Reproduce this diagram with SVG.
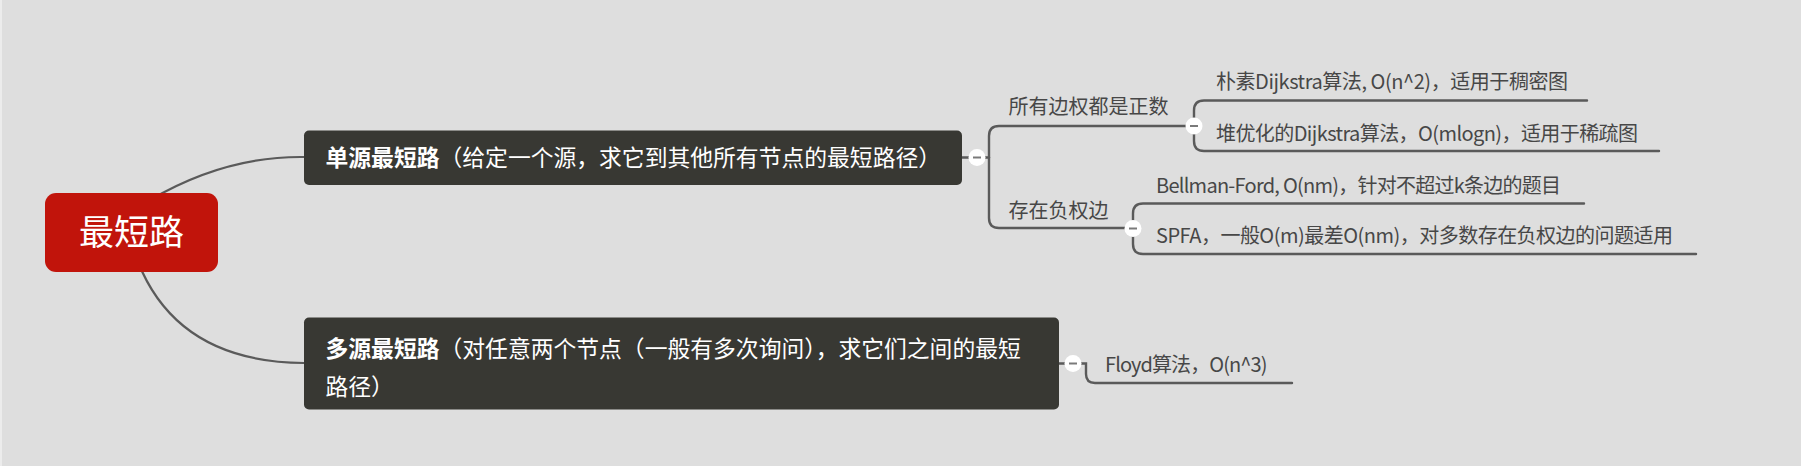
<svg xmlns="http://www.w3.org/2000/svg" width="1801" height="466" viewBox="0 0 1801 466">
<style>
.bg{fill:#dedede}
.conn{fill:none;stroke:#5a5a5a;stroke-width:2.4;stroke-linecap:round}
.root-conn{fill:none;stroke:#5a5a5a;stroke-width:2.2}
.topic{fill:#383833}
.ttext{font-family:"Noto Sans CJK SC","Noto Sans",sans-serif;font-size:22.8px;fill:#ffffff}
.ttext .b{font-weight:bold}
.label{font-family:"Noto Sans CJK SC","Noto Sans",sans-serif;font-size:20px;fill:#474747}
.btn circle{fill:#ffffff}
.btn line{stroke:#7a7a7a;stroke-width:2}
</style>
<defs>
<pattern id="stripes" width="8" height="8" patternUnits="userSpaceOnUse" patternTransform="rotate(45)">
<rect width="8" height="8" fill="#dddddd"/>
<rect width="4" height="8" fill="#e1e1e1"/>
</pattern>
</defs>
<rect class="bg" x="0" y="0" width="1801" height="466" fill="url(#stripes)"/>
<rect x="0" y="0" width="2" height="466" fill="#ececec"/>

<g id="connectors">
<path class="root-conn" d="M150,200 Q225,156 304,157"/>
<path class="root-conn" d="M138,262 Q178,362 304,363"/>
<path class="conn" d="M962,157.5 H989"/>
<path class="conn" d="M1194,126 H999 Q989,126 989,136 V218 Q989,228 999,228 H1133"/>
<path class="conn" d="M1587,100.5 H1204 Q1194,100.5 1194,110.5 V141 Q1194,151 1204,151 H1659"/>
<path class="conn" d="M1584,203.5 H1143 Q1133,203.5 1133,213.5 V244 Q1133,254 1143,254 H1696"/>
<path class="conn" d="M1059,363.5 H1086 V374 Q1086,383 1095,383 H1292"/>
</g>

<g id="root">
<rect x="45" y="193" width="173" height="79" rx="11" fill="#c1140b"/>
<text x="131.5" y="245" text-anchor="middle" font-family="'Noto Sans CJK SC','Noto Sans',sans-serif" font-size="35" fill="#ffffff">最短路</text>
</g>

<g id="single-source">
<rect class="topic" x="304" y="130.5" width="658" height="54.5" rx="5"/>
<text class="ttext" x="325.5" y="166"><tspan class="b">单源最短路</tspan>（给定一个源，求它到其他所有节点的最短路径）</text>
</g>

<g id="multi-source">
<rect class="topic" x="304" y="317.5" width="755" height="92" rx="5"/>
<text class="ttext" x="325.5" y="357"><tspan class="b">多源最短路</tspan>（对任意两个节点（一般有多次询问），求它们之间的最短</text>
<text class="ttext" x="325.5" y="394.5">路径）</text>
</g>

<g id="all-positive">
<text class="label" x="1008.5" y="114">所有边权都是正数</text>
</g>
<g id="has-negative">
<text class="label" x="1008.5" y="217.5">存在负权边</text>
</g>
<g id="naive-dijkstra">
<text class="label" x="1216" y="89" textLength="352" lengthAdjust="spacing">朴素Dijkstra算法, O(n^2)，适用于稠密图</text>
</g>
<g id="heap-dijkstra">
<text class="label" x="1216" y="141" textLength="422" lengthAdjust="spacing">堆优化的Dijkstra算法，O(mlogn)，适用于稀疏图</text>
</g>
<g id="bellman-ford">
<text class="label" x="1156" y="192.5" textLength="405" lengthAdjust="spacing">Bellman-Ford, O(nm)，针对不超过k条边的题目</text>
</g>
<g id="spfa">
<text class="label" x="1156" y="243" textLength="517" lengthAdjust="spacing">SPFA，一般O(m)最差O(nm)，对多数存在负权边的问题适用</text>
</g>
<g id="floyd">
<text class="label" x="1105" y="372" textLength="162.5" lengthAdjust="spacing">Floyd算法，O(n^3)</text>
</g>

<g id="collapse-buttons">
<g class="btn"><circle cx="977" cy="157.5" r="8.5"/><line x1="973" y1="157.5" x2="981" y2="157.5"/></g>
<g class="btn"><circle cx="1194" cy="126" r="8.5"/><line x1="1190" y1="126" x2="1198" y2="126"/></g>
<g class="btn"><circle cx="1133" cy="228.5" r="8.5"/><line x1="1129" y1="228.5" x2="1137" y2="228.5"/></g>
<g class="btn"><circle cx="1073" cy="363.5" r="8.5"/><line x1="1069" y1="363.5" x2="1077" y2="363.5"/></g>
</g>
</svg>
